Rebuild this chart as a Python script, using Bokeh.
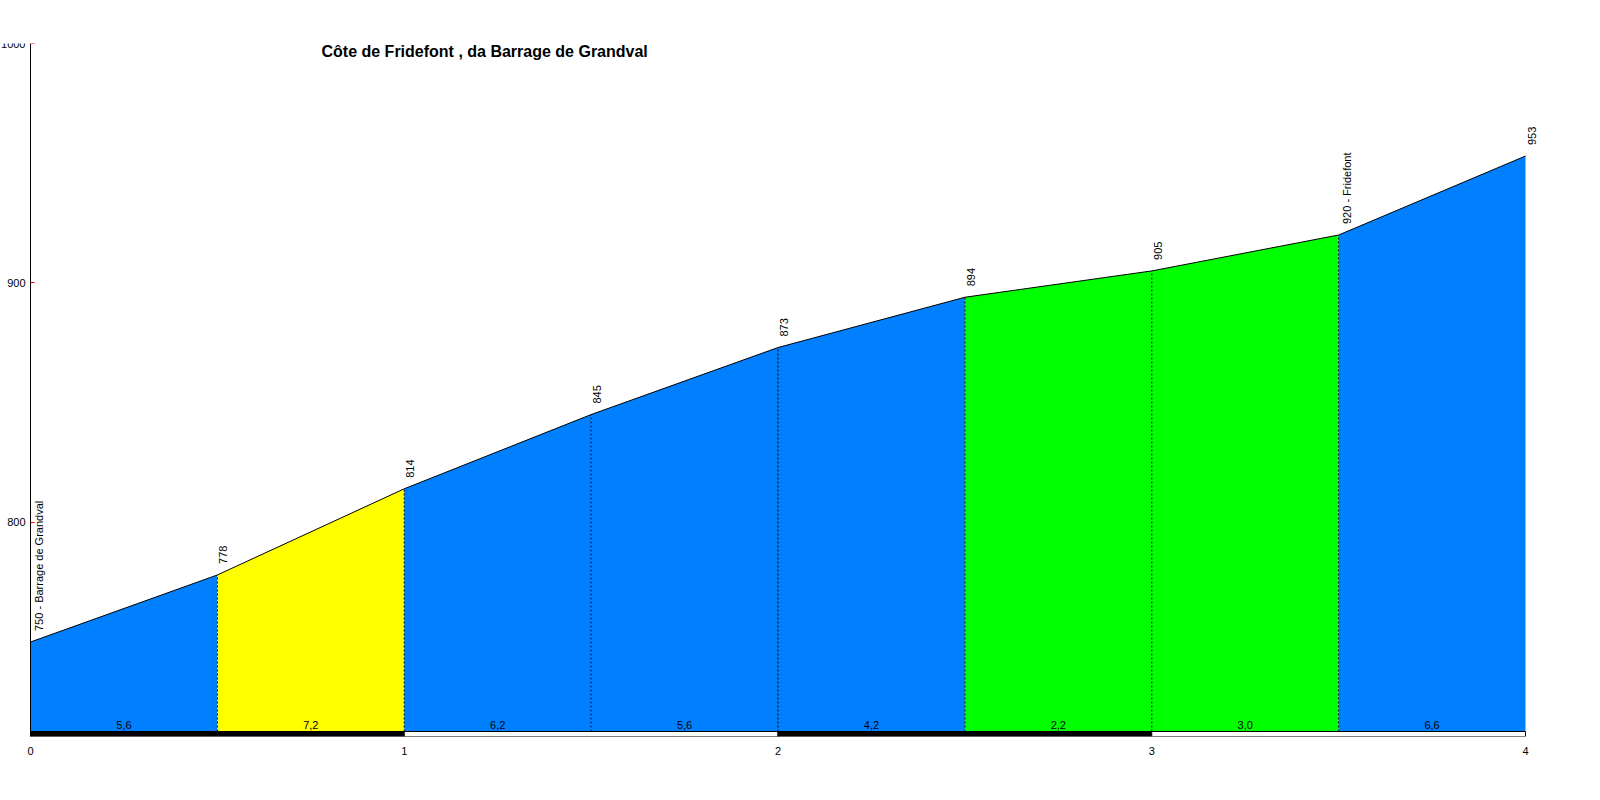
import numpy as np
from bokeh.plotting import figure
from bokeh.models import FixedTicker, Range1d, Label
from bokeh.core.properties import value
from bokeh.embed import file_html
from bokeh.resources import INLINE

# ---------------- data ----------------
title_text = "Côte de Fridefont , da Barrage de Grandval"
km = [0.0, 0.5, 1.0, 1.5, 2.0, 2.5, 3.0, 3.5, 4.0]
elevation = [750, 778, 814, 845, 873, 894, 905, 920, 953]
point_labels = ["750 - Barrage de Grandval", "778", "814", "845", "873",
                "894", "905", "920 - Fridefont", "953"]
gradient_labels = ["5,6", "7,2", "6,2", "5,6", "4,2", "2,2", "3,0", "6,6"]
segment_colors = ["#0080FF", "#FFFF00", "#0080FF", "#0080FF", "#0080FF",
                  "#00FF00", "#00FF00", "#0080FF"]
km_ticks = [0, 1, 2, 3, 4]
km_bar_colors = ["black", "white", "black", "white"]
elev_ticks = [800, 900, 1000]

# ---------------- layout (pixels) ----------------
PX_PER_KM = 373.75
PX_PER_M = 2.394
W, H = 1584, 784
AXIS_X_CANVAS = 30          # x=0 km position from the canvas left edge
FRAME_TOP = 43
FRAME_H = 693
BAR_PX = 5
FONT = "Liberation Sans"

x_start = -AXIS_X_CANVAS / PX_PER_KM
x_end = x_start + W / PX_PER_KM
y_end = 1000
y_start = y_end - FRAME_H / PX_PER_M
base = y_start + BAR_PX / PX_PER_M

p = figure(width=W, height=H, output_backend="svg", toolbar_location=None,
           x_range=Range1d(x_start, x_end), y_range=Range1d(y_start, y_end),
           min_border_left=0, min_border_right=0, min_border_top=FRAME_TOP,
           min_border_bottom=H - FRAME_TOP - FRAME_H)
p.outline_line_color = None
p.grid.visible = False
p.background_fill_color = "white"
p.border_fill_color = "white"

# filled segments
xs, ys = [], []
for i in range(len(km) - 1):
    xs.append([km[i], km[i + 1], km[i + 1], km[i]])
    ys.append([base, base, elevation[i + 1], elevation[i]])
p.patches(xs=xs, ys=ys, fill_color=segment_colors, line_color=None)

# dashed separators
p.segment(x0=km[1:-1], y0=[base] * (len(km) - 2), x1=km[1:-1], y1=elevation[1:-1],
          line_color="black", line_width=1, line_dash="2 2")

# profile line
p.line(km, elevation, line_color="black", line_width=1)

# km bar
p.quad(left=km_ticks[:-1], right=km_ticks[1:], bottom=[y_start] * 4, top=[base] * 4,
       fill_color=km_bar_colors, line_color="black", line_width=1)

# gradient labels
mids = [(km[i] + km[i + 1]) / 2 for i in range(len(km) - 1)]
p.text(x=mids, y=[base] * len(mids), text=gradient_labels, text_align="center",
       text_baseline="alphabetic", y_offset=-7, text_font=value(FONT),
       text_font_size="11px", text_color="black")

# elevation labels (rotated)
p.text(x=km, y=elevation, text=point_labels, angle=np.pi / 2, text_align="left",
       text_baseline="top", x_offset=2, y_offset=-11, text_font=value(FONT),
       text_font_size="11px", text_color="black")

# title
p.add_layout(Label(x=(321 - 30) / PX_PER_KM, y=y_end - 8 / PX_PER_M, text=title_text,
                   text_font=FONT, text_font_style="bold", text_font_size="16px",
                   text_baseline="alphabetic", text_color="black"))

# axes
xa = p.xaxis[0]
xa.ticker = FixedTicker(ticks=km_ticks)
xa.axis_line_color = None
xa.major_tick_line_color = None
xa.minor_tick_line_color = None
xa.major_label_standoff = 4
xa.major_label_text_font = FONT
xa.major_label_text_font_size = "11px"
xa.major_label_text_color = "black"

ya = p.yaxis[0]
ya.fixed_location = 0
ya.ticker = FixedTicker(ticks=elev_ticks)
ya.axis_line_color = "black"
ya.major_tick_in = 4
ya.major_tick_out = 0
ya.major_tick_line_color = "red"
ya.minor_tick_line_color = None
ya.major_label_standoff = 5
ya.major_label_text_font = FONT
ya.major_label_text_font_size = "11px"
ya.major_label_text_color = "black"

open("out.html", "w").write(file_html(p, INLINE))
